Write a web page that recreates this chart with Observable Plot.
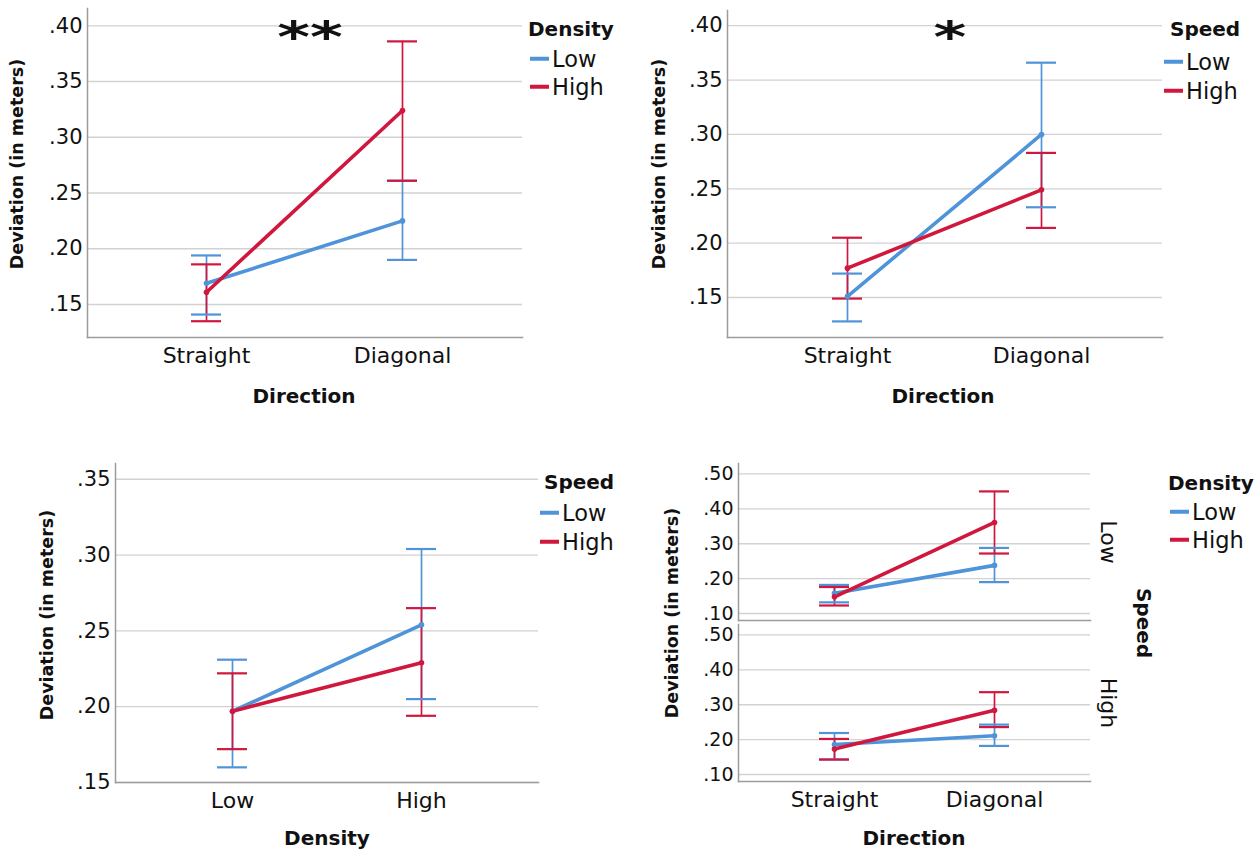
<!DOCTYPE html>
<html>
<head>
<meta charset="utf-8">
<script src="https://cdn.jsdelivr.net/npm/d3@7"></script>
<script src="https://cdn.jsdelivr.net/npm/@observablehq/plot@0.6"></script>
<style>
  body { margin: 0; background: #fff; }
  #root { position: relative; width: 1259px; height: 854px; overflow: hidden; font-family: "DejaVu Sans", sans-serif; color: #111; }
  .abs { position: absolute; white-space: nowrap; line-height: 1; }
  .c { transform: translate(-50%, -50%); }
  .ytitle { font-weight: bold; font-size: 17.5px; transform: translate(-50%, -50%) rotate(-90deg); }
  .xtitle { font-weight: bold; font-size: 20px; }
  .ltitle { font-weight: bold; font-size: 20px; transform: translateY(-50%); }
  .litem { font-size: 22.5px; transform: translateY(-50%); display: flex; align-items: center; }
  .sw { display: inline-block; width: 19px; height: 4px; margin-right: 3px; }
  .star { font-family: "DejaVu Sans", sans-serif; font-weight: bold; font-size: 58px; }
  svg { position: absolute; }
</style>
</head>
<body>
<div id="root"></div>
<script>
// ---------- data ----------
const directions = ["Straight", "Diagonal"];
const densityLevels = ["Low", "High"];
const speedLevels = ["Low", "High"];

// Panel 1: Direction x Density  (rows: Density Low, High; cols: Straight, Diagonal)
const p1Mean = [[0.169, 0.225], [0.161, 0.324]];
const p1Lo   = [[0.141, 0.190], [0.135, 0.261]];
const p1Hi   = [[0.194, 0.261], [0.186, 0.386]];

// Panel 2: Direction x Speed  (rows: Speed Low, High)
const p2Mean = [[0.151, 0.300], [0.177, 0.249]];
const p2Lo   = [[0.128, 0.233], [0.149, 0.214]];
const p2Hi   = [[0.172, 0.366], [0.205, 0.283]];

// Panel 3: Density x Speed  (rows: Speed Low, High; cols: Density Low, High)
const p3Mean = [[0.197, 0.254], [0.197, 0.229]];
const p3Lo   = [[0.160, 0.205], [0.172, 0.194]];
const p3Hi   = [[0.231, 0.304], [0.222, 0.265]];

// Panel 4: Direction x Density, faceted by Speed
// Speed Low
const p4LowMean = [[0.158, 0.238], [0.148, 0.361]];
const p4LowLo   = [[0.132, 0.190], [0.123, 0.272]];
const p4LowHi   = [[0.182, 0.288], [0.176, 0.450]];
// Speed High
const p4HighMean = [[0.186, 0.211], [0.173, 0.284]];
const p4HighLo   = [[0.143, 0.182], [0.143, 0.236]];
const p4HighHi   = [[0.219, 0.243], [0.202, 0.336]];

const ticks1 = [0.15, 0.20, 0.25, 0.30, 0.35, 0.40];
const ticks3 = [0.15, 0.20, 0.25, 0.30, 0.35];
const ticks4 = [0.10, 0.20, 0.30, 0.40, 0.50];

const BLUE = "#4f94d9";
const RED = "#d0173d";

// ---------- helpers ----------
function rows(xCats, groups, mean, lo, hi, facet) {
  const out = [];
  groups.forEach((g, gi) => xCats.forEach((c, ci) => {
    out.push({x: c, g, m: mean[gi][ci], lo: lo[gi][ci], hi: hi[gi][ci], f: facet});
  }));
  return out;
}
const fmt = d => d3.format(".2f")(d).replace(/^0/, "");

function panel(o) {
  const fy = o.facet ? {fy: "f"} : {};
  const marks = [
    Plot.ruleY(o.ticks, {stroke: "#d2d2d2", strokeWidth: 1.3}),
    Plot.frame({anchor: "left", stroke: "#9c9c9c", strokeWidth: 1.5}),
    Plot.frame({anchor: "bottom", stroke: "#9c9c9c", strokeWidth: 1.5}),
    Plot.axisY({ticks: o.ticks, tickFormat: fmt, tickSize: 0, tickPadding: 5, fontSize: o.tickFont || 21, label: null}),
    Plot.axisX({tickSize: 0, tickPadding: 10, fontSize: 22, label: null}),
    Plot.ruleX(o.data, {x: "x", y1: "lo", y2: "hi", stroke: "g", strokeWidth: 1.7, ...fy}),
    Plot.ruleY(o.data, {x1: "x", x2: "x", y: "hi", stroke: "g", strokeWidth: 2.2, insetLeft: -15, insetRight: -15, ...fy}),
    Plot.ruleY(o.data, {x1: "x", x2: "x", y: "lo", stroke: "g", strokeWidth: 2.2, insetLeft: -15, insetRight: -15, ...fy}),
    Plot.line(o.data, {x: "x", y: "m", stroke: "g", strokeWidth: 3.6, ...fy}),
    Plot.dot(o.data, {x: "x", y: "m", fill: "g", r: 2.8, ...fy})
  ];
  if (o.facet) {
    marks.push(Plot.axisFy({anchor: "right", rotate: 90, tickSize: 0, tickPadding: 18, textAnchor: "middle", lineAnchor: "middle", fontSize: 22, label: null}));
  }
  const spec = {
    width: o.width, height: o.height,
    marginLeft: o.ml, marginRight: o.mr, marginTop: o.mt, marginBottom: o.mb,
    style: {fontFamily: "'DejaVu Sans', sans-serif", fontSize: "21px", color: "#111", background: "transparent", overflow: "visible"},
    x: {type: "point", domain: o.xDomain, padding: o.padding, align: o.align, label: null},
    y: {domain: o.yDomain, label: null},
    color: {domain: ["Low", "High"], range: [BLUE, RED]},
    marks
  };
  if (o.facet) spec.fy = {domain: speedLevels, paddingInner: 0.022, paddingOuter: 0, label: null};
  const svg = Plot.plot(spec);
  svg.style.left = o.left + "px";
  svg.style.top = o.top + "px";
  root.appendChild(svg);
}

const root = document.getElementById("root");
function txt(t, x, y, cls, style) {
  const d = document.createElement("div");
  d.className = "abs " + cls;
  d.textContent = t;
  d.style.left = x + "px"; d.style.top = y + "px";
  if (style) Object.assign(d.style, style);
  root.appendChild(d);
  return d;
}
function legend(title, tx, ty, sx, y1, y2) {
  txt(title, tx, ty, "ltitle");
  [["Low", BLUE, y1], ["High", RED, y2]].forEach(([lab, col, yy]) => {
    const d = document.createElement("div");
    d.className = "abs litem";
    d.style.left = sx + "px"; d.style.top = yy + "px";
    const s = document.createElement("span"); s.className = "sw"; s.style.background = col;
    d.appendChild(s); d.appendChild(document.createTextNode(lab));
    root.appendChild(d);
  });
}

// ---------- panels ----------
panel({data: rows(directions, densityLevels, p1Mean, p1Lo, p1Hi), xDomain: directions,
  ticks: ticks1, yDomain: [0.1204, 0.4155], left: 0, top: 0, width: 560, height: 420,
  ml: 87, mr: 38, mt: 8, mb: 83, padding: 0.607, align: 0.497});
panel({data: rows(directions, speedLevels, p2Mean, p2Lo, p2Hi), xDomain: directions,
  ticks: ticks1, yDomain: [0.1132, 0.414], left: 630, top: 0, width: 560, height: 420,
  ml: 97, mr: 28, mt: 10, mb: 83, padding: 0.618, align: 0.497});
panel({data: rows(densityLevels, speedLevels, p3Mean, p3Lo, p3Hi), xDomain: densityLevels,
  ticks: ticks3, yDomain: [0.15, 0.3604], left: 0, top: 440, width: 560, height: 414,
  ml: 115, mr: 22, mt: 23, mb: 72, padding: 0.619, align: 0.5});
panel({data: rows(directions, densityLevels, p4LowMean, p4LowLo, p4LowHi, "Low")
        .concat(rows(directions, densityLevels, p4HighMean, p4HighLo, p4HighHi, "High")),
  xDomain: directions, facet: true, tickFont: 19,
  ticks: ticks4, yDomain: [0.08, 0.53], left: 630, top: 440, width: 500, height: 414,
  ml: 108, mr: 40, mt: 22, mb: 72, padding: 0.6, align: 0.5});

// ---------- titles & legends ----------
txt("Deviation (in meters)", 18, 164, "ytitle");
txt("Deviation (in meters)", 660, 164, "ytitle");
txt("Deviation (in meters)", 48, 615, "ytitle");
txt("Deviation (in meters)", 673, 613, "ytitle");
txt("Direction", 304, 396, "xtitle c");
txt("Direction", 943, 396, "xtitle c");
txt("Density", 327, 838, "xtitle c");
txt("Direction", 914, 838, "xtitle c");
txt("Speed", 1144, 623, "xtitle", {transform: "translate(-50%, -50%) rotate(90deg)"});
txt("**", 310, 37, "star", {transform: "translate(-50%, -50%) scale(1.08, 0.75)"});
txt("*", 950, 37, "star", {transform: "translate(-50%, -50%) scale(1.08, 0.75)"});
legend("Density", 528, 29, 530, 59, 87);
legend("Speed", 1170, 29, 1164, 62, 91);
legend("Speed", 544, 482, 540, 513, 542);
legend("Density", 1168, 483, 1170, 512, 540);
</script>
</body>
</html>
